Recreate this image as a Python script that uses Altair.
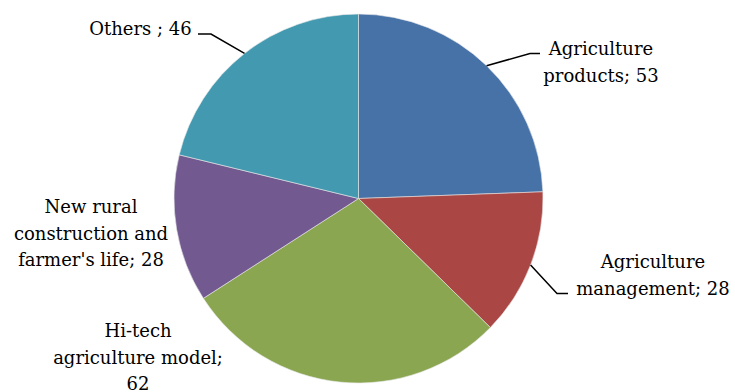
import math
import altair as alt
import pandas as pd

# Slice data (clockwise from 12 o'clock)
categories = [
    "Agriculture products",
    "Agriculture management",
    "Hi-tech agriculture model",
    "New rural construction and farmer's life",
    "Others",
]
values = [53, 28, 62, 28, 46]
label_lines = [
    ["Agriculture", "products; 53"],
    ["Agriculture", "management; 28"],
    ["Hi-tech", "agriculture model;", "62"],
    ["New rural", "construction and", "farmer's life; 28"],
    ["Others ; 46"],
]
colors = ["#4672A7", "#AA4744", "#8AA651", "#725990", "#4299B0"]

# Layout (pixels)
CX, CY, R = 358.5, 198.5, 184.5
FONT = "DejaVu Serif"
label_anchor = {  # centre x, first baseline y
    "Agriculture products": (601, 55),
    "Agriculture management": (653, 268),
    "Hi-tech agriculture model": (138, 337),
    "New rural construction and farmer's life": (91, 213),
    "Others": (140.5, 35),
}
leader_path = {  # elbow and end points of the leader lines
    "Agriculture products": [(530, 53.5), (540, 53.5)],
    "Agriculture management": [(557, 293.5), (568, 293.5)],
    "Others": [(211, 34), (198, 34)],
}

df = pd.DataFrame({"category": categories, "value": values, "idx": range(len(values))})

pie = (
    alt.Chart(df)
    .mark_arc(outerRadius=R, stroke="#e8e8e8", strokeWidth=0.6)
    .encode(
        theta=alt.Theta("value:Q", stack=True),
        order=alt.Order("idx:Q"),
        color=alt.Color(
            "category:N",
            scale=alt.Scale(domain=categories, range=colors),
            legend=None,
        ),
        x=alt.value(CX),
        y=alt.value(CY),
    )
)

# Labels
lab = pd.DataFrame(
    {
        "category": categories,
        "text": label_lines,
        "lx": [label_anchor[c][0] for c in categories],
        "ly": [label_anchor[c][1] for c in categories],
    }
)
labels = (
    alt.Chart(lab)
    .mark_text(font=FONT, fontSize=18, align="center", baseline="alphabetic",
               lineHeight=26.5, color="#000000")
    .encode(
        x=alt.X("lx:Q", scale=None),
        y=alt.Y("ly:Q", scale=None),
        text="text",
    )
)

# Leader lines start at the slice's mid-angle on the rim
total = sum(values)
rows = []
cum = 0
for cat, v in zip(categories, values):
    mid = (cum + v / 2) / total * 2 * math.pi
    cum += v
    if cat not in leader_path:
        continue
    pts = [(CX + R * math.sin(mid), CY - R * math.cos(mid))] + leader_path[cat]
    for k, (px, py) in enumerate(pts):
        rows.append({"category": cat, "k": k, "px": px, "py": py})
lead = pd.DataFrame(rows)
leaders = (
    alt.Chart(lead)
    .mark_line(color="#000000", strokeWidth=1.5)
    .encode(
        x=alt.X("px:Q", scale=None),
        y=alt.Y("py:Q", scale=None),
        detail="category:N",
        order="k:Q",
    )
)

chart = (
    alt.layer(pie, leaders, labels)
    .properties(width=735, height=392, padding=0, autosize="none")
    .configure_view(stroke=None)
    .resolve_scale(color="independent")
)

chart.save("out.html", embed_options={"renderer": "svg", "actions": False})
